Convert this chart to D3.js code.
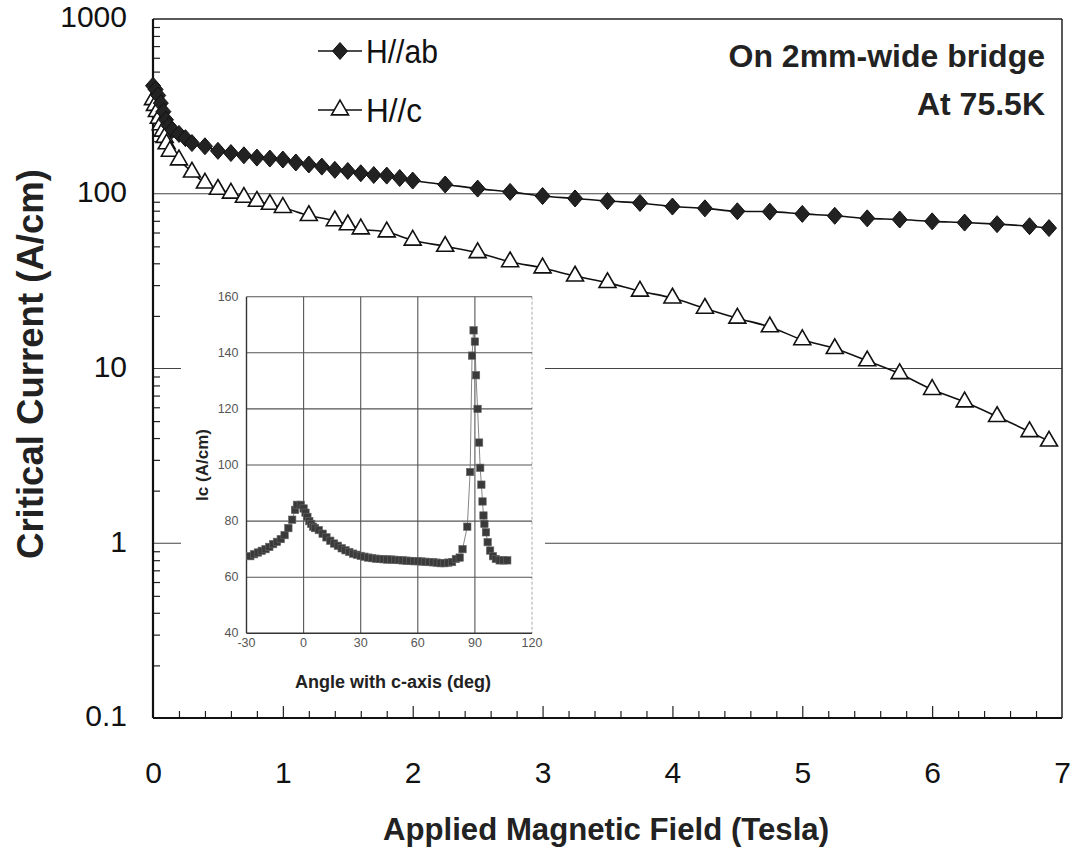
<!DOCTYPE html>
<html>
<head>
<meta charset="utf-8">
<script src="https://d3js.org/d3.v7.min.js"></script>
<style type="text/css">
  body { margin:0; background:#fff; }
  text { font-family:"Liberation Sans", Arial, sans-serif; }
</style>
</head>
<body>
<div id="chart"></div>
<script>
// ---- main chart data ----
var abField = [0, 0.02, 0.04, 0.06, 0.08, 0.1, 0.12, 0.15, 0.2, 0.25,
  0.3, 0.4, 0.5, 0.6, 0.7, 0.8, 0.9, 1.0, 1.1, 1.2, 1.3, 1.4, 1.5, 1.6, 1.7, 1.8, 1.9, 2.0,
  2.25, 2.5, 2.75, 3.0, 3.25, 3.5, 3.75, 4.0, 4.25, 4.5, 4.75, 5.0, 5.25, 5.5, 5.75, 6.0,
  6.25, 6.5, 6.75, 6.9];
var abIc = [415, 395, 365, 330, 295, 265, 245, 232, 220, 208,
  195, 187, 176, 171, 166, 161, 159, 157, 151, 147, 143, 137, 135, 131, 128, 127, 123, 119,
  113, 107, 102.5, 97, 94, 90.8, 88.6, 84.5, 82.5, 79.4, 79, 76.7, 74.8, 72.3, 71.2, 69.5,
  68.4, 67, 65.2, 63.6];

var cField = [0, 0.015, 0.03, 0.045, 0.06, 0.075, 0.09, 0.105, 0.13, 0.2,
  0.3, 0.4, 0.5, 0.6, 0.7, 0.8, 0.9, 1.0, 1.2, 1.4, 1.5, 1.6, 1.8, 2.0,
  2.25, 2.5, 2.75, 3.0, 3.25, 3.5, 3.75, 4.0, 4.25, 4.5, 4.75, 5.0, 5.25, 5.5, 5.75, 6.0,
  6.25, 6.5, 6.75, 6.9];
var cIc = [345, 320, 295, 270, 248, 228, 210, 193, 175, 156,
  133, 115, 106, 100.7, 95.3, 90.5, 86.9, 83.4, 75, 70, 66.4, 62.9, 60.4, 54.2,
  50, 46, 40.8, 37.6, 33.8, 31, 27.7, 25.3, 22.1, 19.4, 17.3, 14.6, 13.0, 11.06, 9.33, 7.58,
  6.43, 5.31, 4.35, 3.84];

var xTicks = [0, 1, 2, 3, 4, 5, 6, 7];
var yTicks = [0.1, 1, 10, 100, 1000];
var yTickLabels = ["0.1", "1", "10", "100", "1000"];
var seriesNames = ["H//ab", "H//c"];

// ---- inset data: Ic vs angle ----
var angle = [-28, -26, -24, -22, -20, -18, -16, -14, -12, -10, -8, -6, -4.5, -3.5, -1.5,
  0, 1, 2, 3, 4, 5, 6, 8, 10, 12, 14, 16, 18, 20, 22, 24, 26, 28, 30, 32, 34, 36, 38, 40,
  42, 44, 46, 48, 50, 52, 54, 56, 58, 60, 62, 64, 66, 68, 70, 72, 74, 76, 78, 80, 82,
  83.5, 86, 87.5, 88.5, 89.3, 90, 90.6, 91.4, 92.2, 92.8, 93.4, 94, 94.5, 95, 95.8, 96.7,
  98, 99.5, 101, 103, 105, 107];
var angleIc = [67.5, 68.2, 68.8, 69.4, 70, 70.8, 71.8, 72.6, 73.6, 75, 77.5, 80.5, 84, 85.8, 85.8,
  84.5, 83, 81.5, 80, 79, 78, 77.5, 76.8, 75.5, 74.2, 73, 72, 71.2, 70.3, 69.6, 69, 68.4, 68, 67.6,
  67.3, 67, 66.8, 66.6, 66.5, 66.4, 66.3, 66.3, 66.2, 66.1, 66, 65.9, 65.8, 65.7, 65.7, 65.6,
  65.5, 65.4, 65.3, 65.2, 65, 65, 65.2, 65.4, 66.5, 67,
  70, 78, 97.5, 139, 148, 144, 132, 120, 108, 99, 93, 87, 82, 79, 76, 72.5,
  69.5, 67.5, 66.5, 66, 66, 66];
var insetXTicks = [-30, 0, 30, 60, 90, 120];
var insetYTicks = [40, 60, 80, 100, 120, 140, 160];

// set the dimensions of the page
var W = 1080, H = 857;
var plot = {left: 153, right: 1062, top: 19, bottom: 718};

var svg = d3.select("#chart")
  .append("svg")
    .attr("width", W)
    .attr("height", H);

svg.append("rect").attr("width", W).attr("height", H).attr("fill", "#fff");

var x = d3.scaleLinear().domain([0, 7]).range([plot.left, plot.right]);
var y = d3.scaleLog().domain([0.1, 1000]).range([plot.bottom, plot.top]);

// horizontal grid lines at each decade
svg.append("g")
  .selectAll("line")
  .data([1, 10, 100])
  .enter().append("line")
    .attr("x1", plot.left).attr("x2", plot.right)
    .attr("y1", function(d) { return y(d); })
    .attr("y2", function(d) { return y(d); })
    .attr("stroke", "#444")
    .attr("stroke-width", 1.2);

// minor ticks on the log axis, pointing inwards
var yMinor = [];
yTicks.slice(0, 4).forEach(function(dec) {
  for (var k = 2; k <= 9; k++) yMinor.push(dec * k);
});
svg.append("g")
  .attr("transform", "translate(" + plot.left + ",0)")
  .call(d3.axisRight(y).tickValues(yMinor).tickSize(7).tickFormat(""))
  .call(function(g) { g.select(".domain").remove(); })
  .selectAll("line").attr("stroke", "#222").attr("stroke-width", 1.2);

// x ticks: minor every 0.2, major at each tesla
var xMinor = d3.range(1, 35).map(function(i) { return i / 5; }).filter(function(v) { return Math.abs(v - Math.round(v)) > 0.01; });
svg.append("g")
  .attr("transform", "translate(0," + plot.bottom + ")")
  .call(d3.axisTop(x).tickValues(xMinor).tickSize(7).tickFormat(""))
  .call(function(g) { g.select(".domain").remove(); })
  .selectAll("line").attr("stroke", "#222").attr("stroke-width", 1.2);
svg.append("g")
  .attr("transform", "translate(0," + plot.bottom + ")")
  .call(d3.axisTop(x).tickValues(xTicks.slice(1, 7)).tickSize(12).tickFormat(""))
  .call(function(g) { g.select(".domain").remove(); })
  .selectAll("line").attr("stroke", "#222").attr("stroke-width", 1.2);

// tick labels
svg.append("g")
  .attr("transform", "translate(" + plot.left + ",0)")
  .call(d3.axisLeft(y).tickValues(yTicks).tickSize(0).tickPadding(26)
    .tickFormat(function(d, i) { return yTickLabels[i]; }))
  .call(function(g) { g.select(".domain").remove(); })
  .selectAll("text")
    .attr("dy", "0.26em")
    .style("font-size", "30px")
    .style("font-family", "'Liberation Sans', Arial, sans-serif")
    .attr("fill", "#111");

svg.append("g")
  .attr("transform", "translate(0," + plot.bottom + ")")
  .call(d3.axisBottom(x).tickValues(xTicks).tickSize(0).tickPadding(44).tickFormat(d3.format("d")))
  .call(function(g) { g.select(".domain").remove(); })
  .selectAll("text")
    .style("font-size", "30px")
    .style("font-family", "'Liberation Sans', Arial, sans-serif")
    .attr("fill", "#111");

// frame of the plot
svg.append("line").attr("x1", plot.left).attr("x2", plot.right).attr("y1", plot.top).attr("y2", plot.top)
  .attr("stroke", "#222").attr("stroke-width", 1.5);
svg.append("line").attr("x1", plot.right).attr("x2", plot.right).attr("y1", plot.top).attr("y2", plot.bottom)
  .attr("stroke", "#222").attr("stroke-width", 1.5);
svg.append("line").attr("x1", plot.left).attr("x2", plot.left).attr("y1", plot.top).attr("y2", plot.bottom)
  .attr("stroke", "#111").attr("stroke-width", 2.2);
svg.append("line").attr("x1", plot.left).attr("x2", plot.right).attr("y1", plot.bottom).attr("y2", plot.bottom)
  .attr("stroke", "#111").attr("stroke-width", 2.2);

// ---- inset ----
var inset = {left: 246.5, right: 532, top: 296.7, bottom: 633.3};
var ix = d3.scaleLinear().domain([-30, 120]).range([inset.left, inset.right]);
var iy = d3.scaleLinear().domain([40, 160]).range([inset.bottom, inset.top]);

// white backing so main grid lines stop behind the inset
svg.append("rect")
  .attr("x", 181).attr("y", 282)
  .attr("width", 364).attr("height", 418)
  .attr("fill", "#fff");

var ig = svg.append("g");

ig.selectAll(".vgrid")
  .data(insetXTicks.slice(1, 5))
  .enter().append("line")
    .attr("x1", function(d) { return ix(d); }).attr("x2", function(d) { return ix(d); })
    .attr("y1", inset.top).attr("y2", inset.bottom)
    .attr("stroke", "#555").attr("stroke-width", 1.1);
ig.append("line")
  .attr("x1", ix(120)).attr("x2", ix(120)).attr("y1", inset.top).attr("y2", inset.bottom)
  .attr("stroke", "#aaa").attr("stroke-width", 1).attr("stroke-dasharray", "3,2");
ig.selectAll(".hgrid")
  .data(insetYTicks.slice(1))
  .enter().append("line")
    .attr("x1", inset.left).attr("x2", inset.right)
    .attr("y1", function(d) { return iy(d); }).attr("y2", function(d) { return iy(d); })
    .attr("stroke", "#555").attr("stroke-width", 1.1);
ig.append("line")
  .attr("x1", inset.left).attr("x2", inset.right).attr("y1", inset.bottom).attr("y2", inset.bottom)
  .attr("stroke", "#333").attr("stroke-width", 1.4);
ig.append("line")
  .attr("x1", inset.left).attr("x2", inset.left).attr("y1", inset.top).attr("y2", inset.bottom)
  .attr("stroke", "#333").attr("stroke-width", 1.4);

ig.selectAll(".iyl")
  .data(insetYTicks)
  .enter().append("text")
    .attr("x", inset.left - 8)
    .attr("y", function(d) { return iy(d) + 4; })
    .attr("text-anchor", "end")
    .style("font-size", "12.5px")
    .attr("fill", "#555")
    .text(function(d) { return d; });
ig.selectAll(".ixl")
  .data(insetXTicks)
  .enter().append("text")
    .attr("x", function(d) { return ix(d); })
    .attr("y", inset.bottom + 14)
    .attr("text-anchor", "middle")
    .style("font-size", "12.5px")
    .attr("fill", "#555")
    .text(function(d) { return d; });

var angleData = angle.map(function(a, i) { return {a: a, v: angleIc[i]}; });
ig.append("path")
  .datum(angleData)
  .attr("fill", "none")
  .attr("stroke", "#777")
  .attr("stroke-width", 0.9)
  .attr("d", d3.line().x(function(d) { return ix(d.a); }).y(function(d) { return iy(d.v); }));
ig.selectAll(".sq")
  .data(angleData)
  .enter().append("rect")
    .attr("x", function(d) { return ix(d.a) - 3.7; })
    .attr("y", function(d) { return iy(d.v) - 3.7; })
    .attr("width", 7.4).attr("height", 7.4)
    .attr("fill", "#3a3a3a")
    .attr("stroke", "#666").attr("stroke-width", 0.6);

ig.append("text")
  .attr("transform", "translate(208,465) rotate(-90)")
  .attr("text-anchor", "middle")
  .style("font-size", "17px")
  .style("font-weight", "bold")
  .attr("fill", "#222")
  .text("Ic (A/cm)");
ig.append("text")
  .attr("x", 393).attr("y", 688)
  .attr("text-anchor", "middle")
  .style("font-size", "18px")
  .style("font-weight", "bold")
  .attr("fill", "#222")
  .text("Angle with c-axis (deg)");

// ---- main series ----
var abData = abField.map(function(f, i) { return {f: f, v: abIc[i]}; });
var cData = cField.map(function(f, i) { return {f: f, v: cIc[i]}; });
var line = d3.line()
  .x(function(d) { return x(d.f); })
  .y(function(d) { return y(d.v); })
  .curve(d3.curveMonotoneX);

svg.append("path").datum(abData)
  .attr("fill", "none").attr("stroke", "#111").attr("stroke-width", 1.6).attr("d", line);
svg.append("path").datum(cData)
  .attr("fill", "none").attr("stroke", "#111").attr("stroke-width", 1.6).attr("d", line);

var diamond = "M0,-8.5L7.5,0L0,8.5L-7.5,0Z";
var triangle = d3.symbol().type(d3.symbolTriangle).size(125);

svg.selectAll(".tri")
  .data(cData)
  .enter().append("path")
    .attr("transform", function(d) { return "translate(" + x(d.f) + "," + y(d.v) + ")"; })
    .attr("d", triangle)
    .attr("fill", "#fff")
    .attr("stroke", "#111")
    .attr("stroke-width", 1.6);

svg.selectAll(".dia")
  .data(abData)
  .enter().append("path")
    .attr("transform", function(d) { return "translate(" + x(d.f) + "," + y(d.v) + ")"; })
    .attr("d", diamond)
    .attr("fill", "#222")
    .attr("stroke", "#111")
    .attr("stroke-width", 1);

// legend
var legend = svg.append("g");
var legendRows = [{y: 51, name: seriesNames[0], len: 72}, {y: 110, name: seriesNames[1], len: 56}];
legendRows.forEach(function(r, i) {
  legend.append("line")
    .attr("x1", 318).attr("x2", 362).attr("y1", r.y).attr("y2", r.y)
    .attr("stroke", "#111").attr("stroke-width", 1.6);
  legend.append("path")
    .attr("transform", "translate(340," + r.y + ")")
    .attr("d", i === 0 ? diamond : triangle)
    .attr("fill", i === 0 ? "#222" : "#fff")
    .attr("stroke", "#111")
    .attr("stroke-width", i === 0 ? 1 : 1.6);
  legend.append("text")
    .attr("x", 366).attr("y", r.y + 12)
    .attr("textLength", r.len)
    .attr("lengthAdjust", "spacingAndGlyphs")
    .style("font-size", "34px")
    .attr("fill", "#111")
    .text(r.name);
});

// annotation, top right
svg.append("text")
  .attr("x", 1045).attr("y", 67)
  .attr("text-anchor", "end")
  .style("font-size", "32px").style("font-weight", "bold")
  .attr("fill", "#222")
  .text("On 2mm-wide bridge");
svg.append("text")
  .attr("x", 1045).attr("y", 115)
  .attr("text-anchor", "end")
  .style("font-size", "32px").style("font-weight", "bold")
  .attr("fill", "#222")
  .text("At 75.5K");

// axis titles
svg.append("text")
  .attr("transform", "translate(43,364) rotate(-90)")
  .attr("text-anchor", "middle")
  .attr("textLength", 390)
  .attr("lengthAdjust", "spacingAndGlyphs")
  .style("font-size", "36px").style("font-weight", "bold")
  .attr("fill", "#222")
  .text("Critical Current (A/cm)");
svg.append("text")
  .attr("x", 606).attr("y", 840)
  .attr("text-anchor", "middle")
  .attr("textLength", 446)
  .attr("lengthAdjust", "spacingAndGlyphs")
  .style("font-size", "32px").style("font-weight", "bold")
  .attr("fill", "#222")
  .text("Applied Magnetic Field (Tesla)");
</script>
</body>
</html>
